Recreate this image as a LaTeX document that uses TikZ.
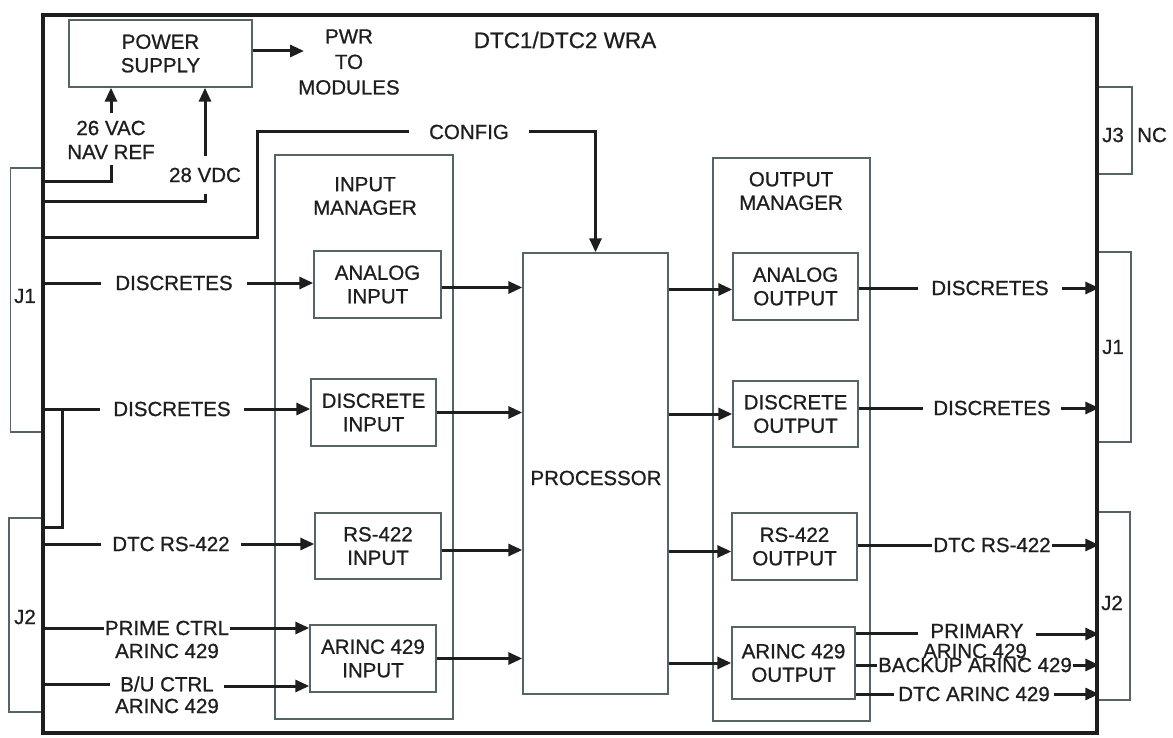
\documentclass[tikz,border=0pt]{standalone}
\usepackage{fontspec}
\newfontfamily\lblfont[FakeBold=0.8]{Liberation Sans}
\usetikzlibrary{arrows.meta,calc}
\definecolor{boxgray}{RGB}{85,100,100}
\definecolor{ink}{RGB}{30,30,30}
\newcommand\lbl{\lblfont\fontsize{20.5}{23.5}\selectfont}
\tikzset{
  thinbox/.style={draw=boxgray, line width=1.4pt},
  box/.style={thinbox, fill=white, align=center, inner sep=0pt, font=\lbl, text=ink},
  lbl/.style={font=\lbl, align=center, inner sep=0pt, text=ink},
  wire/.style={line width=3pt, draw=ink},
  arr/.style={wire, -{Triangle[length=14pt,width=12pt]}},
}
\begin{document}
\begin{tikzpicture}[x=1pt,y=-1pt]
\useasboundingbox (0,0) rectangle (1173,738);
% connectors (thin side boxes)
\node[thinbox, minimum width=33pt, minimum height=264pt, inner sep=0pt] (lj1) at (27,300) {};
\node[thinbox, minimum width=34pt, minimum height=194pt, inner sep=0pt] (lj2) at (26,615) {};
\node[thinbox, minimum width=35pt, minimum height=87pt, inner sep=0pt] (rj3) at (1114.5,130.5) {};
\node[thinbox, minimum width=34pt, minimum height=190pt, inner sep=0pt] (rj1) at (1114,347) {};
\node[thinbox, minimum width=33pt, minimum height=188pt, inner sep=0pt] (rj2) at (1113.5,606) {};
\node[lbl] (lj1t) at (25,296) {J1};
\node[lbl] (lj2t) at (25,617) {J2};
\node[lbl] (rj3t) at (1113,135) {J3};
\node[lbl] (nct) at (1152,135) {NC};
\node[lbl] (rj1t) at (1113,347) {J1};
\node[lbl] (rj2t) at (1112,603) {J2};
% outer box
\node[draw=ink, line width=4.5pt, minimum width=1054pt, minimum height=718pt, inner sep=0pt] (outer) at (570,374) {};
\node[lbl, font=\lblfont\fontsize{22.5}{25}\selectfont] (title) at (565,40) {DTC1/DTC2 WRA};
% power supply
\node[box, minimum width=183pt, minimum height=67pt] (ps) at (160.5,53.5) {POWER\\SUPPLY};
\node[lbl, font=\lblfont\fontsize{20.5}{25.5}\selectfont] (pw) at (349,62) {PWR\\TO\\MODULES};
\coordinate (pwtip) at (304,51);
\draw[arr] (ps.east |- pwtip) -- (pwtip);
\node[lbl, inner ysep=7.5pt] (va1) at (111,128) {26 VAC};
\node[lbl, inner ysep=6pt] (va2) at (111,152) {NAV REF};
\node[lbl, inner ysep=12pt] (vd) at (205,175) {28 VDC};
\coordinate (j26) at (112,182);
\coordinate (j28) at (205,202);
\draw[arr] (va1.north) -- (va1.north |- ps.south);
\draw[arr] (vd.north) -- (vd.north |- ps.south);
\draw[wire] (va2.south) |- (outer.west |- j26);
\draw[wire] (vd.south) |- (outer.west |- j28);
% config
\node[lbl, inner xsep=20pt] (cfg) at (469,132) {CONFIG};
\coordinate (cfgbend) at (257,238);
% managers and processor
\node[thinbox, minimum width=178pt, minimum height=564pt, inner sep=0pt] (inm) at (364,437) {};
\node[thinbox, minimum width=157pt, minimum height=563pt, inner sep=0pt] (outm) at (791.5,439.5) {};
\node[lbl] (inmt) at (365,196) {INPUT\\MANAGER};
\node[lbl] (outmt) at (791,191) {OUTPUT\\MANAGER};
\node[box, minimum width=145pt, minimum height=441pt] (proc) at (595.5,473.5) {};
\node[lbl] (proct) at (596,478) {PROCESSOR};
\draw[wire] (outer.west |- cfgbend) -- (cfgbend) |- (cfg.west);
\draw[arr] (cfg.east) -| (proc.north);
% input modules
\node[box, minimum width=127pt, minimum height=67pt] (ai) at (377.5,284.5) {ANALOG\\INPUT};
\node[box, minimum width=125pt, minimum height=67pt] (di) at (373.5,412.5) {DISCRETE\\INPUT};
\node[box, minimum width=126pt, minimum height=66pt] (ri) at (378,546) {RS-422\\INPUT};
\node[box, minimum width=126pt, minimum height=67pt] (arin) at (373,658.5) {ARINC 429\\INPUT};
% output modules
\node[box, minimum width=125pt, minimum height=67pt] (ao) at (795.5,286.5) {ANALOG\\OUTPUT};
\node[box, minimum width=125pt, minimum height=66pt] (do) at (795.5,414) {DISCRETE\\OUTPUT};
\node[box, minimum width=125pt, minimum height=67pt] (ro) at (794.5,546.5) {RS-422\\OUTPUT};
\node[box, minimum width=123pt, minimum height=72pt] (aro) at (793.5,663) {ARINC 429\\OUTPUT};
% input -> processor
\draw[arr] (ai.east) ++(0,3) coordinate (aie) -- (aie -| proc.west);
\draw[arr] (di.east) -- (di.east -| proc.west);
\draw[arr] (ri.east) ++(0,4) coordinate (rie) -- (rie -| proc.west);
\draw[arr] (arin.east) -- (arin.east -| proc.west);
% processor -> output
\draw[arr] (proc.east |- ao.west) ++(0,3) coordinate (aow) -- (aow -| ao.west);
\draw[arr] (proc.east |- do.west) -- (do.west);
\draw[arr] (proc.east |- ro.west) ++(0,5) coordinate (row) -- (row -| ro.west);
\draw[arr] (proc.east |- aro.west) -- (aro.west);
% left inputs
\node[lbl, inner xsep=14pt] (dl1) at (174,283) {DISCRETES};
\node[lbl, inner xsep=13pt] (dl2) at (172,409) {DISCRETES};
\node[lbl, inner xsep=11pt] (dl3) at (171,544) {DTC RS-422};
\node[lbl, inner xsep=1pt] (pc1) at (167,628) {PRIME CTRL};
\node[lbl] (pc2) at (167,651) {ARINC 429};
\node[lbl, inner xsep=10pt] (bu1) at (167,684) {B/U CTRL};
\node[lbl] (bu2) at (167,706) {ARINC 429};
\draw[wire] (outer.west |- dl1.west) -- (dl1.west);
\draw[arr] (dl1.east) -- (dl1.east -| ai.west);
\draw[wire] (outer.west |- dl2.west) -- (dl2.west);
\draw[arr] (dl2.east) -- (dl2.east -| di.west);
\coordinate (br) at (62,527);
\draw[wire] (br |- dl2.west) -- (br) -- (outer.west |- br);
\draw[wire] (outer.west |- dl3.west) -- (dl3.west);
\draw[arr] (dl3.east) -- (dl3.east -| ri.west);
\draw[wire] (outer.west |- pc1.west) -- (pc1.west);
\draw[arr] (pc1.east) -- (pc1.east -| arin.west);
\draw[wire] (outer.west |- bu1.west) -- (bu1.west);
\draw[arr] (bu1.east) ++(0,2) coordinate (bue) -- (bue -| arin.west);
% right outputs
\node[lbl, inner xsep=13pt] (dr1) at (990,288) {DISCRETES};
\node[lbl, inner xsep=10pt] (dr2) at (992,408) {DISCRETES};
\node[lbl, inner xsep=1pt] (dr3) at (992,545) {DTC RS-422};
\node[lbl, inner xsep=12pt] (pa1) at (977,631) {PRIMARY};
\node[lbl] (pa2) at (975,651) {ARINC 429};
\node[lbl, inner xsep=1pt] (ba) at (975,665) {BACKUP ARINC 429};
\node[lbl, inner xsep=4pt] (da) at (974,694) {DTC ARINC 429};
\draw[wire] (ao.east |- dr1.west) -- (dr1.west);
\draw[arr] (dr1.east) -- (dr1.east -| outer.east);
\draw[wire] (do.east |- dr2.west) -- (dr2.west);
\draw[arr] (dr2.east) -- (dr2.east -| outer.east);
\draw[wire] (ro.east |- dr3.west) -- (dr3.west);
\draw[arr] (dr3.east) -- (dr3.east -| outer.east);
\draw[wire] (aro.east |- pa1.west) ++(0,2) coordinate (paw) -- (paw -| pa1.west);
\draw[arr] (pa1.east) ++(0,3) coordinate (pae) -- (pae -| outer.east);
\draw[wire] (aro.east |- ba.west) -- (ba.west);
\draw[arr] (ba.east) -- (ba.east -| outer.east);
\draw[wire] (aro.east |- da.west) -- (da.west);
\draw[arr] (da.east) -- (da.east -| outer.east);
\end{tikzpicture}
\end{document}
